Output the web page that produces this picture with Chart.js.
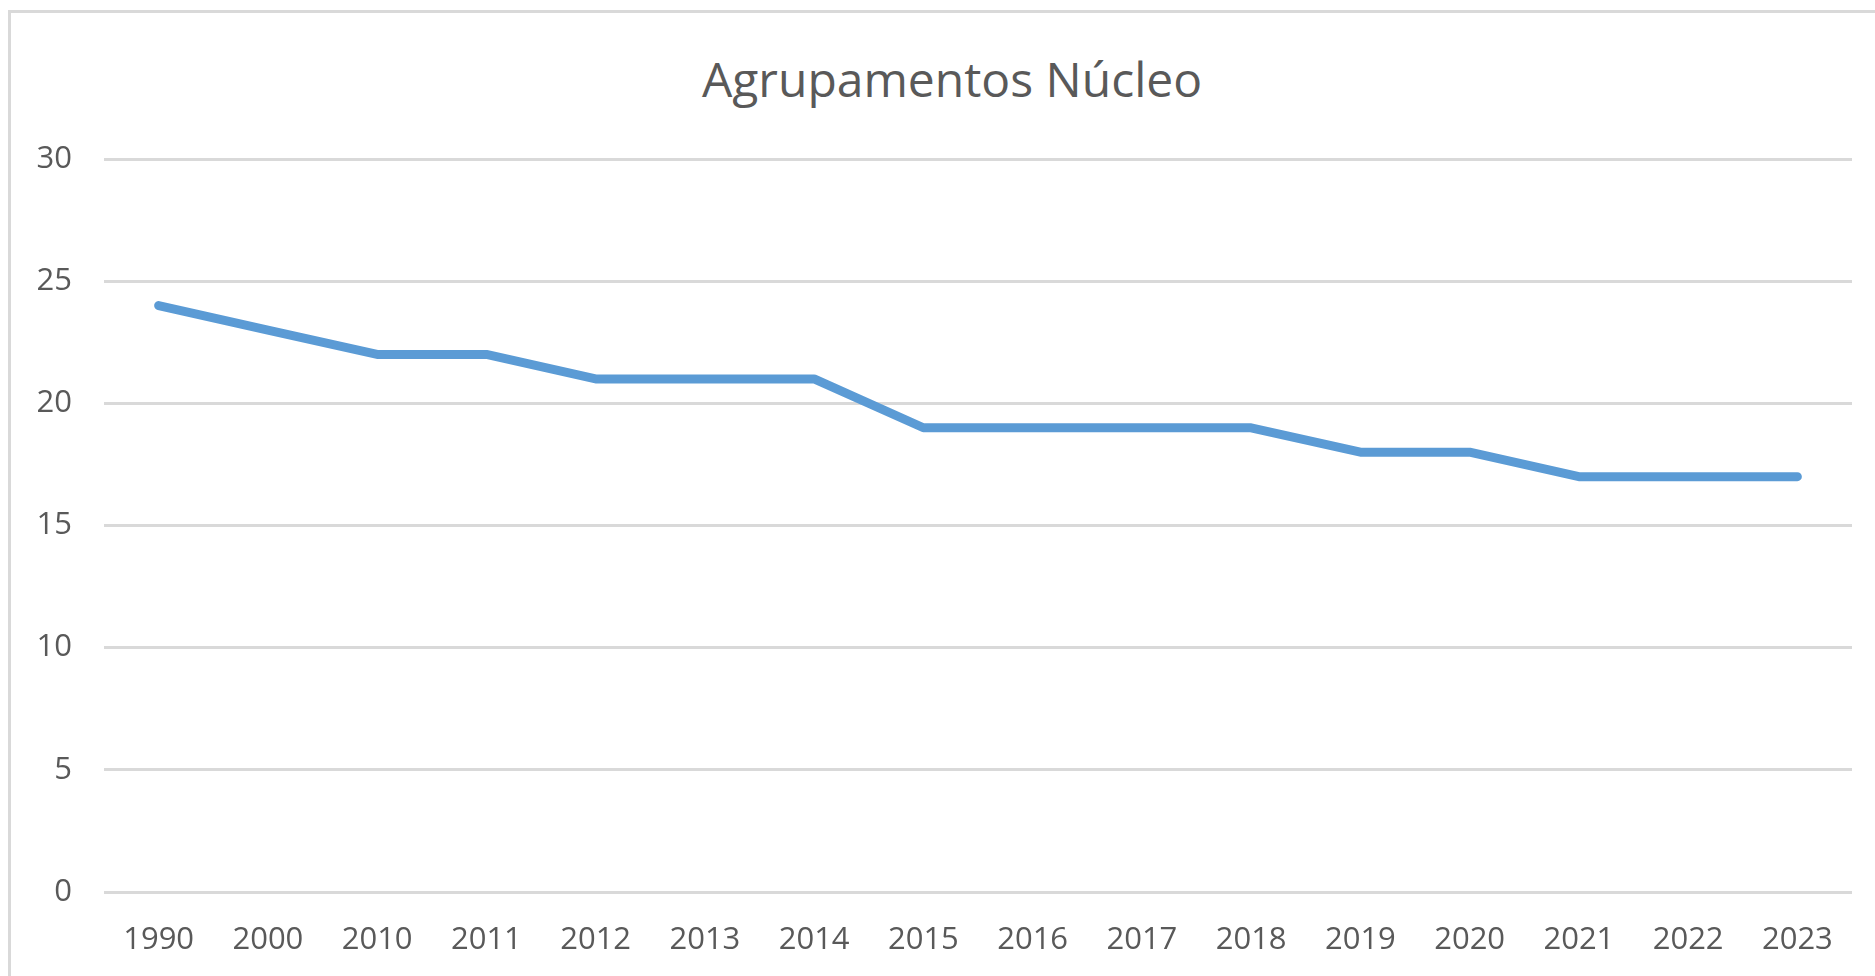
<!DOCTYPE html>
<html>
<head>
<meta charset="utf-8">
<script src="https://cdn.jsdelivr.net/npm/chart.js@4"></script>
<style>
    body{margin:0;background:#fff;overflow:hidden;}
    #frame{position:absolute;left:8px;top:10px;width:1900px;height:1000px;
        border-left:3px solid #d9d9d9;border-top:3px solid #d9d9d9;}
    #chartTitle{position:absolute;left:0;top:55px;width:1904px;text-align:center;
        font-family:"Open Sans",sans-serif;font-size:48px;line-height:48px;color:#595959;}
    #wrap{position:absolute;left:0;top:0;width:1875px;height:976px;}
</style>
</head>
<body>
<div id="frame"></div>
<div id="chartTitle">Agrupamentos Núcleo</div>
<div id="wrap"><canvas id="mainChart"></canvas></div>
<script>
// dados
const anos = ["1990","2000","2010","2011","2012","2013","2014","2015","2016","2017","2018","2019","2020","2021","2022","2023"];
const agrupamentos = [24,23,22,22,21,21,21,19,19,19,19,18,18,17,17,17];
const yTicks = [0,5,10,15,20,25,30];

const corTexto = "#595959";
const corGrelha = "#d9d9d9";

let canvas_1 = document.getElementById("mainChart");
new Chart(canvas_1, {
    type: 'line',
    data: {
        labels: anos,
        datasets: [{
            label: "Agrupamentos Núcleo",
            data: agrupamentos,
            borderColor: "#5b9bd5",
            backgroundColor: "#5b9bd5",
            borderWidth: 9,
            borderCapStyle: 'round',
            borderJoinStyle: 'round',
            pointRadius: 0,
            tension: 0,
            fill: false
        }]
    },
    options: {
        responsive: true,
        maintainAspectRatio: false,
        animation: false,
        layout: {
            padding: {left: 0, right: 23, top: 159, bottom: 0}
        },
        plugins: {
            legend: {display: false},
            title: {display: false},
            tooltip: {enabled: false}
        },
        scales: {
            x: {
                offset: true,
                grid: {display: false, drawTicks: false},
                border: {display: false},
                ticks: {
                    color: corTexto,
                    font: {family: "Open Sans", size: 31},
                    padding: 30,
                    maxRotation: 0,
                    autoSkip: false
                },
                afterFit: function(scale){ scale.height = 84; }
            },
            y: {
                min: 0,
                max: 30,
                afterBuildTicks: function(scale){
                    scale.ticks = yTicks.map(v => ({value: v}));
                },
                grid: {color: corGrelha, lineWidth: 3, drawTicks: false},
                border: {display: false},
                ticks: {
                    color: corTexto,
                    font: {family: "Open Sans", size: 31},
                    padding: 32
                },
                afterFit: function(scale){ scale.width = 104; }
            }
        }
    }
});
</script>
</body>
</html>
